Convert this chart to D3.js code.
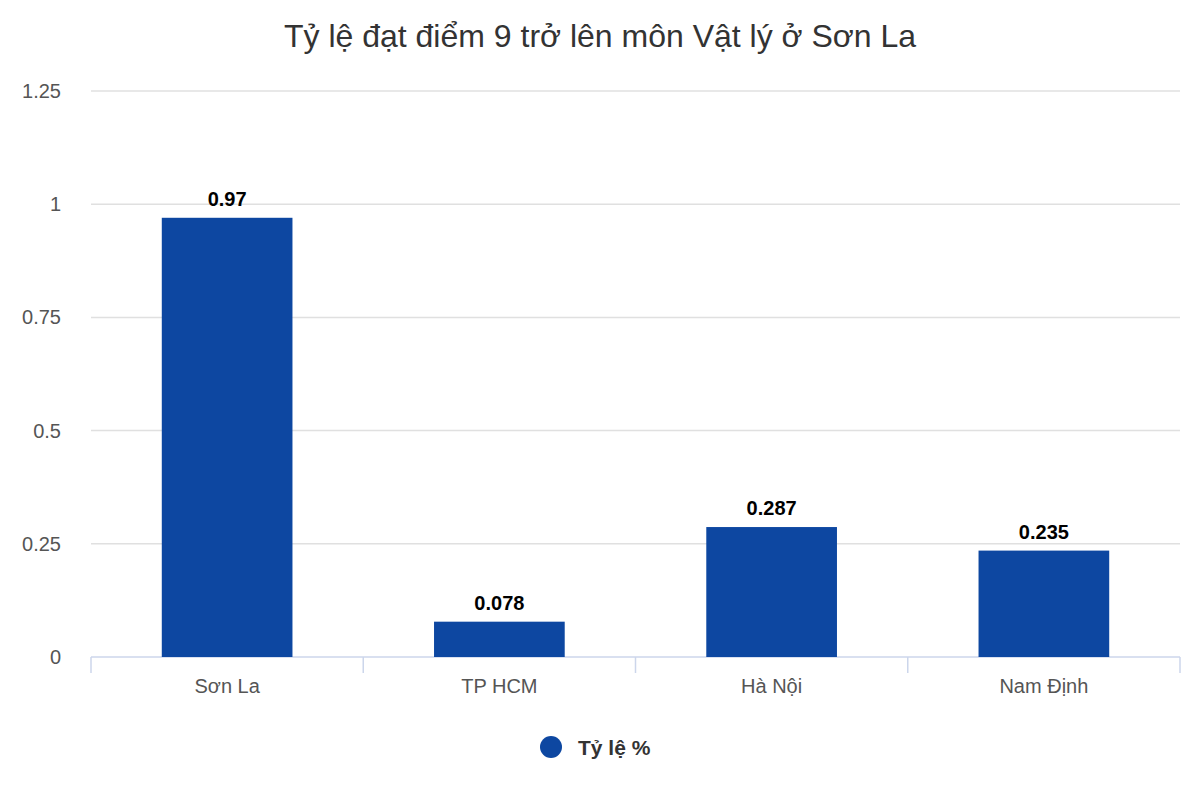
<!DOCTYPE html>
<html><head><meta charset="utf-8">
<script src="https://cdn.jsdelivr.net/npm/d3@7"></script>
<style>body{margin:0;background:#fff}svg{font-family:"Liberation Sans",Arial,sans-serif}</style>
</head><body><svg id="c" width="1200" height="800"></svg>
<script>
const categories=["Sơn La","TP HCM","Hà Nội","Nam Định"];
const values=[0.97,0.078,0.287,0.235];
const ticks=[0,0.25,0.5,0.75,1,1.25];
const tickLabels=["0","0.25","0.5","0.75","1","1.25"];
const seriesName="Tỷ lệ %";
const color="#0d47a1";
const svg=d3.select("#c");
const L=91,R=1180,T=91,B=657;
const x=d3.scaleBand().domain(categories).range([L,R]).paddingInner(0.52).paddingOuter(0.26);
const xb=d3.scaleBand().domain(categories).range([L,R]);
const y=d3.scaleLinear().domain([0,1.25]).range([B,T]);
svg.append("text").attr("x",600).attr("y",47).attr("text-anchor","middle").attr("font-size",32).attr("fill","#333").text("Tỷ lệ đạt điểm 9 trở lên môn Vật lý ở Sơn La");
ticks.forEach((t,i)=>{
 if(t>0)svg.append("line").attr("x1",L).attr("x2",R).attr("y1",y(t)).attr("y2",y(t)).attr("stroke","#e0e0e0").attr("stroke-width",1.5);
 svg.append("text").attr("x",61).attr("y",y(t)+7).attr("text-anchor","end").attr("font-size",20).attr("fill","#555").text(tickLabels[i]);
});
svg.append("line").attr("x1",L).attr("x2",R).attr("y1",B).attr("y2",B).attr("stroke","#ccd6eb").attr("stroke-width",1.5);
const bounds=categories.map(c=>xb(c)).concat([R]);
bounds.forEach(b=>svg.append("line").attr("x1",b).attr("x2",b).attr("y1",B).attr("y2",B+16).attr("stroke","#ccd6eb").attr("stroke-width",1.5));
categories.forEach((c,i)=>{
 svg.append("rect").attr("x",x(c)).attr("width",x.bandwidth()).attr("y",y(values[i])).attr("height",B-y(values[i])).attr("fill",color);
 svg.append("text").attr("x",x(c)+x.bandwidth()/2).attr("y",y(values[i])-12).attr("text-anchor","middle").attr("font-size",20).attr("font-weight","bold").attr("fill","#000").text(values[i]);
 svg.append("text").attr("x",xb(c)+xb.bandwidth()/2).attr("y",693).attr("text-anchor","middle").attr("font-size",20).attr("fill","#555").text(c);
});
svg.append("circle").attr("cx",551).attr("cy",747).attr("r",11).attr("fill",color);
svg.append("text").attr("x",578).attr("y",755).attr("font-size",21).attr("font-weight","bold").attr("fill","#333").text(seriesName);
</script></body></html>
